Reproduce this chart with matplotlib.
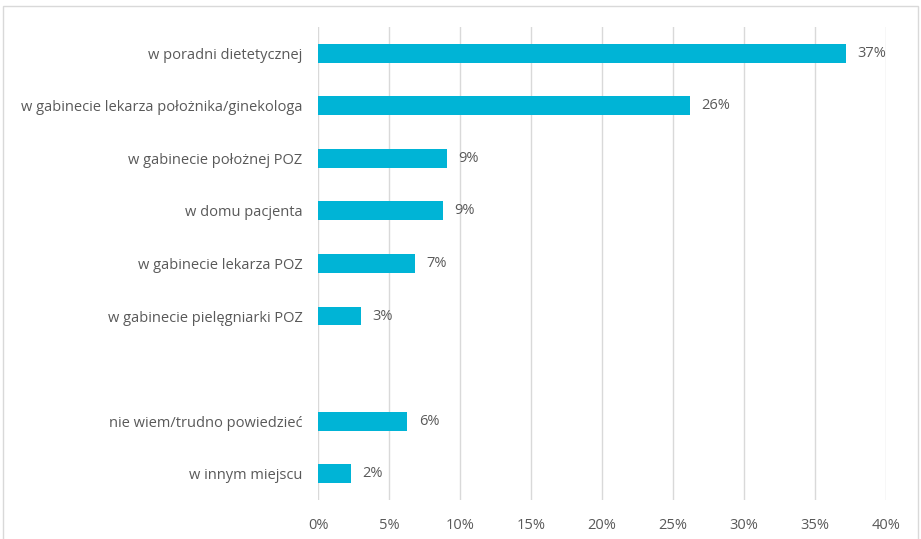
import numpy as np
import matplotlib.pyplot as plt
from matplotlib.patches import Rectangle

plt.rcParams['font.family'] = ['Open Sans', 'DejaVu Sans']

# miejsca porad (pusta pozycja = odstęp między grupami)
kategorie = [
    "w poradni dietetycznej",
    "w gabinecie lekarza położnika/ginekologa",
    "w gabinecie położnej POZ",
    "w domu pacjenta",
    "w gabinecie lekarza POZ",
    "w gabinecie pielęgniarki POZ",
    "",
    "nie wiem/trudno powiedzieć",
    "w innym miejscu",
]
wartosci = [37.2, 26.2, 9.1, 8.8, 6.8, 3.0, None, 6.3, 2.3]
xticks = [0, 5, 10, 15, 20, 25, 30, 35, 40]

kolor = "#00B4D6"
szary = "#595959"

fig = plt.figure(figsize=(9.21, 5.39), dpi=100)
ax = fig.add_axes([0.3453, 0.0724, 0.9620 - 0.3453, 0.95 - 0.0724])

pozycje = np.arange(len(kategorie))
for y, v in zip(pozycje, wartosci):
    if v is None:
        continue
    ax.barh(y, v, height=0.36, color=kolor, zorder=3)
    ax.text(v + 0.8, y, f"{v:.0f}%", va="center", ha="left",
            fontsize=10.5, color=szary)

ax.set_yticks(pozycje)
ax.set_yticklabels(kategorie, fontsize=10.5, color=szary)
ax.set_ylim(len(kategorie) - 0.5, -0.5)
ax.set_xlim(0, 40)
ax.set_xticks(xticks)
ax.set_xticklabels([f"{t}%" for t in xticks], fontsize=10.5, color=szary)

ax.grid(axis="x", color="#d9d9d9", linewidth=1, zorder=0)
ax.tick_params(axis="x", length=0, pad=13)
ax.tick_params(axis="y", length=0, pad=11)
for s in ax.spines.values():
    s.set_visible(False)

# ramka wokół wykresu
fig.patches.append(Rectangle((3 / 921, -0.01), 915 / 921, 1 - 6 / 539 + 0.01,
                             transform=fig.transFigure, fill=False,
                             edgecolor="#d9d9d9", linewidth=1))

fig.savefig("out.png", dpi=100)
